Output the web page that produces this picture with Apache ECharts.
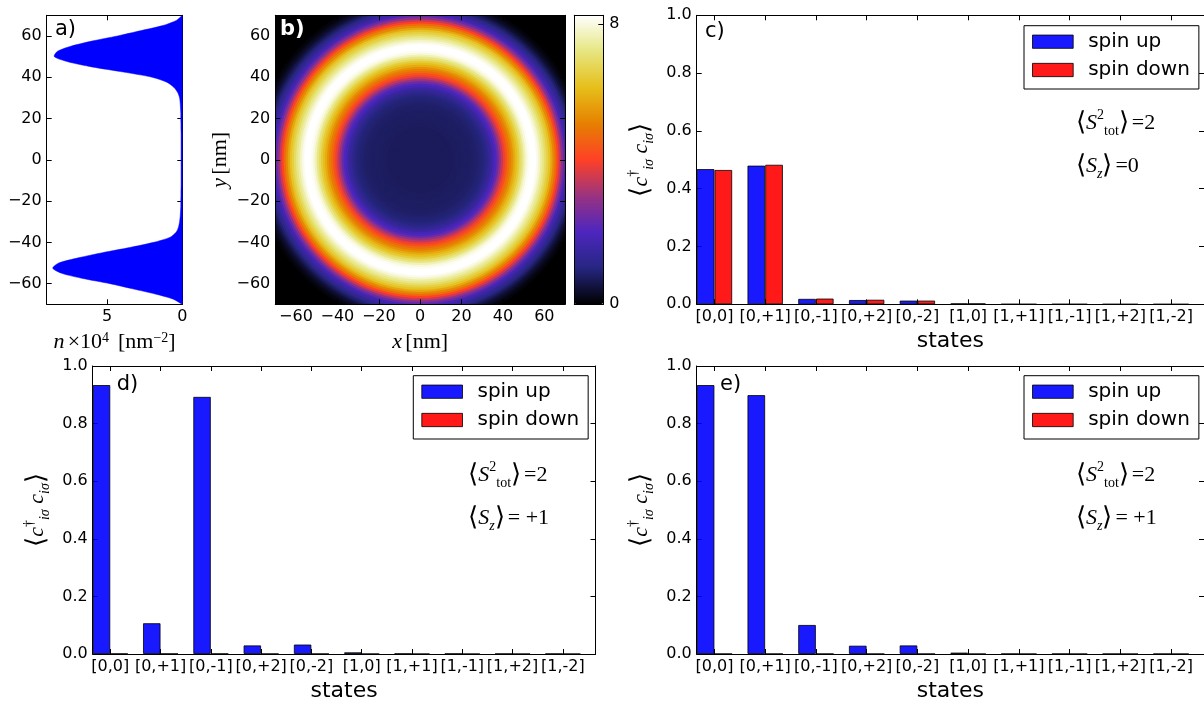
<!DOCTYPE html>
<html><head><meta charset="utf-8">
<script src="https://cdn.jsdelivr.net/npm/echarts@6/dist/echarts.min.js"></script>
<style>html,body{margin:0;padding:0;background:#fff}#main{width:1204px;height:707px}</style>
</head><body><div id="main"></div>
<script>
// ---------- data ----------
// panel a: cut of the density along y (nm) -> n x 10^4 [nm^-2]
const profileY = [-70,-67.5,-65,-62.5,-60,-57.5,-55,-52.5,-50,-47.5,-45,-42.5,-40,-37.5,-35,-32.5,-30,-27.5,-25,-22.5,-20,-17.5,-15,-12.5,-10,-7.5,-5,-2.5,0,2.5,5,7.5,10,12.5,15,17.5,20,22.5,25,27.5,30,32.5,35,37.5,40,42.5,45,47.5,50,52.5,55,57.5,60,62.5,65,67.5,70];
const profileN = [0,0.6,1.8,3.3,4.8,6.6,8.0,8.6,8.2,6.9,5.3,3.5,1.9,0.8,0.4,0.25,0.18,0.14,0.12,0.1,0.1,0.09,0.09,0.08,0.08,0.08,0.08,0.08,0.08,0.08,0.08,0.08,0.08,0.08,0.09,0.09,0.1,0.1,0.12,0.14,0.18,0.3,0.55,1.0,2.0,3.9,6.0,7.6,8.5,8.3,7.4,6.0,4.3,2.8,1.3,0.4,0];
// panel b: radial density of the ring (1 nm bands, centres in nm, values on colour scale)
const ringRadius = [0.5,1.5,2.5,3.5,4.5,5.5,6.5,7.5,8.5,9.5,10.5,11.5,12.5,13.5,14.5,15.5,16.5,17.5,18.5,19.5,20.5,21.5,22.5,23.5,24.5,25.5,26.5,27.5,28.5,29.5,30.5,31.5,32.5,33.5,34.5,35.5,36.5,37.5,38.5,39.5,40.5,41.5,42.5,43.5,44.5,45.5,46.5,47.5,48.5,49.5,50.5,51.5,52.5,53.5,54.5,55.5,56.5,57.5,58.5,59.5,60.5,61.5,62.5,63.5,64.5,65.5,66.5,67.5,68.5,69.5,70.5,71.5,72.5,73.5,74.5,75.5,76.5,77.5,78.5,79.5];
const ringDensity = [0.74,0.74,0.74,0.74,0.74,0.74,0.74,0.74,0.74,0.74,0.74,0.74,0.74,0.74,0.74,0.74,0.76,0.76,0.77,0.77,0.78,0.78,0.79,0.80,0.81,0.83,0.84,0.87,0.91,0.95,0.99,1.07,1.24,1.40,1.57,1.82,2.06,2.48,3.05,3.47,3.96,4.37,4.79,5.12,5.45,5.86,6.19,6.52,6.93,7.26,7.67,8.00,8.17,8.25,8.25,8.25,8.09,7.84,7.51,7.26,6.93,6.60,6.27,5.78,5.28,4.79,4.12,3.55,2.97,2.39,1.85,1.60,1.35,1.10,0.85,0.62,0.42,0.27,0.15,0.07];
const ringHalfWidth = 0.5;
const densityMax = 8.25;
const nmTicks = [-60,-40,-20,0,20,40,60];
const nTicks = [0,5];
const colorbarTicks = [0,8];
// panels c, d, e
const categories = ['[0,0]','[0,+1]','[0,-1]','[0,+2]','[0,-2]','[1,0]','[1,+1]','[1,-1]','[1,+2]','[1,-2]'];
const cSpinUp   = [0.468,0.480,0.019,0.015,0.013,0.003,0.0006,0.0006,0.0004,0.0004];
const cSpinDown = [0.465,0.483,0.020,0.016,0.013,0.003,0.0006,0.0006,0.0004,0.0004];
const dSpinUp   = [0.934,0.107,0.893,0.030,0.033,0.006,0.0012,0.0012,0.0008,0.0008];
const dSpinDown = [0.001,0.001,0.001,0.0006,0.0006,0.0004,0.0003,0.0003,0.0003,0.0003];
const eSpinUp   = [0.934,0.899,0.101,0.029,0.030,0.005,0.0006,0.0006,0.0004,0.0004];
const eSpinDown = [0.0005,0.0005,0.0005,0.0004,0.0004,0.0003,0.0003,0.0003,0.0003,0.0003];
const occTicks = [0,0.2,0.4,0.6,0.8,1.0];

// ---------- styling helpers ----------
const SANS = 'DejaVu Sans', SERIF = 'Liberation Serif';
const cmrColors = ['#000000','#262680','#4d26bf','#993380','#ff4026','#e68000','#e6bf1a','#e6e680','#ffffff'];
const signed = v => v < 0 ? '\u2212' + Math.abs(v) : String(v);
const tickPos = categories.map((c, i) => i + 0.35);
const catLabel = v => categories[Math.round(v - 0.35)];

function mkAxis(gi, pos, extra, ticks, labelFmt, labelSize){
  const ax = {
    gridIndex: gi, position: pos, type: 'value',
    axisLine: {show: true, onZero: false, lineStyle: {color: '#000', width: 1}},
    axisTick: {show: true, inside: true, length: 5, lineStyle: {color: '#000', width: 1}},
    axisLabel: {show: false},
    splitLine: {show: false}
  };
  if (ticks) { ax.axisTick.customValues = ticks; }
  if (labelFmt) {
    ax.axisLabel = {show: true, customValues: ticks, formatter: labelFmt, fontFamily: SANS,
      fontSize: labelSize || 16, color: '#000', margin: 5};
  }
  return Object.assign(ax, extra);
}
const mathRich = {
  i: {fontFamily: SERIF, fontStyle: 'italic', fontSize: 22, color: '#000'},
  r: {fontFamily: SERIF, fontSize: 22, color: '#000'},
  eq: {fontFamily: SERIF, fontSize: 22, color: '#000', padding: [0, 0, 0, 3]},
  b: {fontFamily: 'DejaVu Sans', fontWeight: 'lighter', fontSize: 26, color: '#000', lineHeight: 30},
  sup: {fontFamily: SERIF, fontSize: 14, color: '#000', verticalAlign: 'top'},
  sub: {fontFamily: SERIF, fontStyle: 'italic', fontSize: 14, color: '#000', verticalAlign: 'bottom'},
  subr: {fontFamily: SERIF, fontSize: 14, color: '#000', verticalAlign: 'bottom'}
};
const occName = '{b|\u27E8}{i|c}{sup|\u2020}{sub|i\u03C3}{i| c}{sub|i\u03C3}{b|\u27E9}';

const grids = [
  {left: 46.7, top: 15.3, width: 135.6, height: 289},   // a
  {left: 275.3, top: 15.3, width: 289.7, height: 289, show: true, backgroundColor: '#000', borderWidth: 0}, // b
  {left: 574.3, top: 15.3, width: 29, height: 289},     // colorbar
  {left: 696.7, top: 15.3, width: 507.5, height: 289},  // c
  {left: 92.7, top: 366, width: 502.8, height: 288},    // d
  {left: 696.7, top: 366, width: 507.5, height: 288}    // e
];

const occX = gi => [
  mkAxis(gi, 'bottom', {min: 0, max: 10, name: 'states', nameLocation: 'middle', nameGap: 26,
    nameTextStyle: {fontFamily: SANS, fontSize: 22, color: '#000'}}, tickPos, catLabel, 16),
  mkAxis(gi, 'top', {min: 0, max: 10}, tickPos)
];
const occY = gi => [
  mkAxis(gi, 'left', {min: 0, max: 1, name: occName, nameLocation: 'middle', nameRotate: 90, nameGap: 40,
    nameTextStyle: {rich: mathRich}}, occTicks, v => v.toFixed(1), 16),
  mkAxis(gi, 'right', {min: 0, max: 1}, occTicks)
];

const xAxes = [
  mkAxis(0, 'bottom', {min: 0, max: 9, inverse: true,
    name: '{i|n} {r|\u00D710}{sup|4} {r| [nm}{sup|\u22122}{r|]}', nameLocation: 'middle', nameGap: 27,
    nameTextStyle: {rich: mathRich}}, nTicks, v => String(v), 16),
  mkAxis(0, 'top', {min: 0, max: 9, inverse: true}, nTicks),
  mkAxis(1, 'bottom', {min: -70, max: 70, z: 10, name: '{i|x} {r|[nm]}', nameLocation: 'middle', nameGap: 27,
    nameTextStyle: {rich: mathRich}}, nmTicks, signed, 16),
  mkAxis(1, 'top', {min: -70, max: 70, z: 10}, nmTicks),
  mkAxis(2, 'bottom', {min: 0, max: 1, z: 10, axisTick: {show: false}}),
  mkAxis(2, 'top', {min: 0, max: 1, z: 10, axisTick: {show: false}}),
  ...occX(3), ...occX(4), ...occX(5)
];
const yAxes = [
  mkAxis(0, 'left', {min: -70, max: 70}, nmTicks, signed, 16),
  mkAxis(0, 'right', {min: -70, max: 70}, nmTicks),
  mkAxis(1, 'left', {min: -70, max: 70, z: 10, name: '{i|y} {r|[nm]}', nameLocation: 'middle', nameRotate: 90, nameGap: 44,
    nameTextStyle: {rich: mathRich}}, nmTicks, signed, 16),
  mkAxis(1, 'right', {min: -70, max: 70, z: 10}, nmTicks),
  mkAxis(2, 'left', {min: 0, max: densityMax, z: 10, axisTick: {show: false}}),
  mkAxis(2, 'right', {min: 0, max: densityMax, z: 10}, colorbarTicks, v => String(v), 16),
  ...occY(3), ...occY(4), ...occY(5)
];
yAxes[5].axisLabel.margin = 6;

const barStyle = col => ({color: col, borderColor: 'rgba(0,0,0,0.8)', borderWidth: 1});
const BLUE = 'rgba(0,0,255,0.9)', RED = 'rgba(255,0,0,0.9)';
function barPair(axisIdx, up, down){
  return [
    {type: 'bar', name: 'spin up', xAxisIndex: axisIdx, yAxisIndex: axisIdx, barWidth: '35%', barGap: '0%',
      data: up.map((v, i) => [tickPos[i], v]), itemStyle: barStyle(BLUE)},
    {type: 'bar', name: 'spin down', xAxisIndex: axisIdx, yAxisIndex: axisIdx, barWidth: '35%', barGap: '0%',
      data: down.map((v, i) => [tickPos[i], v]), itemStyle: barStyle(RED)}
  ];
}
function legendAt(left, top){
  return {orient: 'vertical', left: left, top: top, selectedMode: false,
    data: [{name: 'spin up', icon: 'rect'}, {name: 'spin down', icon: 'rect'}],
    itemWidth: 40.7, itemHeight: 13.3, itemGap: 8.3, padding: [6, 9, 9, 8],
    borderColor: '#000', borderWidth: 1, backgroundColor: '#fff',
    itemStyle: {borderColor: 'rgba(0,0,0,0.8)', borderWidth: 1},
    textStyle: {fontFamily: SANS, fontSize: 20, color: '#000', padding: [0, 0, 0, 10]}};
}
function note(x, y, txt){
  return {type: 'text', x: x, y: y, z: 50, style: {text: txt, rich: mathRich, align: 'left', verticalAlign: 'middle'}};
}
function panelLabel(x, y, txt, fill, weight){
  return {type: 'text', x: x, y: y, z: 50, style: {text: txt, fontFamily: SANS, fontSize: 21, fill: fill,
    fontWeight: weight || 'normal', align: 'left', verticalAlign: 'middle'}};
}
const s2 = '{b|\u27E8}{i|S}{sup|2}{subr|tot}{b|\u27E9}{eq|=2}';
const szZero = '{b|\u27E8}{i|S}{sub|z}{b|\u27E9}{eq|=0}';
const szOne = '{b|\u27E8}{i|S}{sub|z}{b|\u27E9}{eq|= +1}';

// rings are drawn outermost first as filled disks, so inner ones cover them without seams
const ringData = ringRadius.map((r, i) => [r, ringDensity[i]]).reverse();

const option = {
  animation: false,
  backgroundColor: '#fff',
  grid: grids,
  xAxis: xAxes,
  yAxis: yAxes,
  visualMap: {type: 'continuous', seriesIndex: 1, dimension: 1, min: 0, max: densityMax,
    inRange: {color: cmrColors}, left: 574.3, top: 15.3, itemWidth: 29, itemHeight: 289,
    calculable: false, padding: 0, orient: 'vertical', text: null, hoverLink: false},
  legend: [legendAt(1024, 25.7), legendAt(413.3, 375.7), legendAt(1024, 375.7)],
  series: [
    {type: 'custom', xAxisIndex: 0, yAxisIndex: 0, clip: true,
      data: profileY.map((y, i) => [profileN[i], y]),
      renderItem: function(params, api){
        if (params.dataIndex !== 0) return;
        const pts = [api.coord([0, profileY[0]])];
        for (let i = 0; i < profileY.length; i++) pts.push(api.coord([profileN[i], profileY[i]]));
        pts.push(api.coord([0, profileY[profileY.length - 1]]));
        return {type: 'polygon', shape: {points: pts, smooth: 0.25}, style: {fill: '#0000ff', stroke: '#0000ff', lineWidth: 0.5}};
      }},
    {type: 'custom', xAxisIndex: 2, yAxisIndex: 2, clip: true, data: ringData,
      renderItem: function(params, api){
        const c = api.coord([0, 0]);
        const rx = api.size([api.value(0) + ringHalfWidth, 0])[0];
        const ry = api.size([0, api.value(0) + ringHalfWidth])[1];
        return {type: 'ellipse', shape: {cx: c[0], cy: c[1], rx: rx, ry: ry}, style: {fill: api.visual('color')}};
      }},
    ...barPair(6, cSpinUp, cSpinDown),
    ...barPair(8, dSpinUp, dSpinDown),
    ...barPair(10, eSpinUp, eSpinDown)
  ],
  graphic: [
    panelLabel(55, 30, 'a)', '#000'),
    panelLabel(280, 30, 'b)', '#fff', 'bold'),
    panelLabel(705, 31.7, 'c)', '#000'),
    panelLabel(116.7, 385, 'd)', '#000'),
    panelLabel(720, 385, 'e)', '#000'),
    note(1076, 123.3, s2),
    note(1076, 166.7, szZero),
    note(468.3, 475, s2),
    note(468.3, 518.3, szOne),
    note(1076, 475, s2),
    note(1076, 518.3, szOne)
  ]
};
const chart = echarts.init(document.getElementById('main'), null, {renderer: 'canvas'});
chart.setOption(option);
</script>
</body></html>
